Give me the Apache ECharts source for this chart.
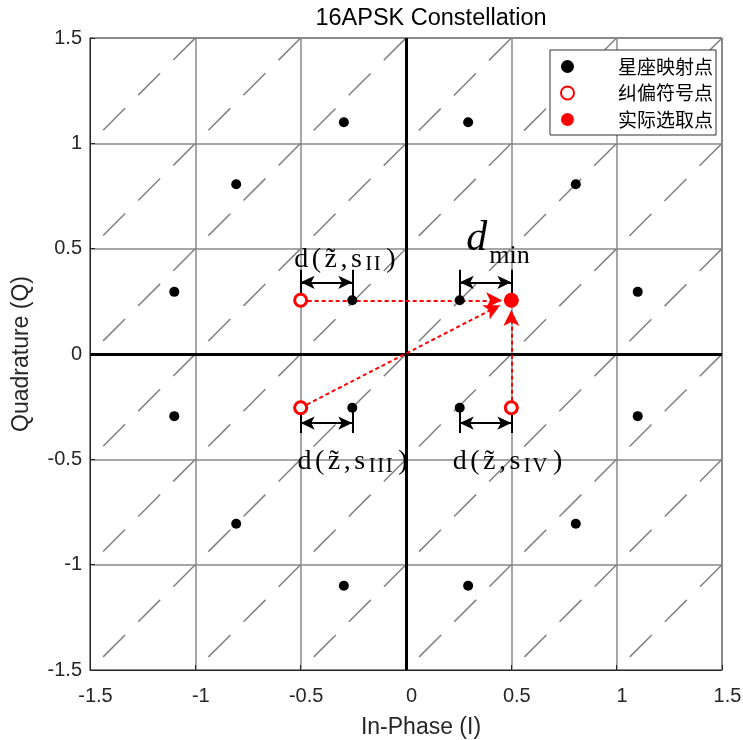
<!DOCTYPE html>
<html>
<head>
<meta charset="utf-8">
<script src="https://cdn.jsdelivr.net/npm/echarts@6/dist/echarts.min.js"></script>
<style>
  html, body { margin: 0; padding: 0; background: #fff; }
  #main { width: 743px; height: 740px; }
</style>
</head>
<body>
<div id="main"></div>
<script>
// constellation points
const constX = [0.255, -0.255, -0.255, 0.255,
  0.295, -0.295, -0.295, 0.295, 0.806, -0.806, -0.806, 0.806, 1.10, -1.10, -1.10, 1.10]
const constY = [0.255, 0.255, -0.255, -0.255,
  1.10, 1.10, -1.10, -1.10, 0.806, 0.806, -0.806, -0.806, 0.295, 0.295, -0.295, -0.295]
// corrected symbols (open red) and the chosen point (filled red)
const corrX = [-0.5, -0.5, 0.5]
const corrY = [0.255, -0.255, -0.255]
const chosen = [0.5, 0.255]
// offsets of the dashed diagonals y = x + c
const diagOffsets = [-2.5, -2, -1.5, -1, -0.5, 0, 0.5, 1, 1.5, 2, 2.5]
// red dotted arrows: from corrected symbols to chosen point (tip stops at marker edge)
const redArrows = [
  [[-0.5, 0.255], [0.456, 0.255]],
  [[-0.5, -0.255], [0.447, 0.232]],
  [[0.5, -0.255], [0.5, 0.209]]
]
// black distance brackets: [x1, x2, yArrow, yTickEnd, yPoint]
const brackets = [
  [-0.5, -0.255, 0.34, 0.40, 0.255],
  [0.255, 0.5, 0.34, 0.40, 0.255],
  [-0.5, -0.255, -0.328, -0.375, -0.255],
  [0.255, 0.5, -0.328, -0.375, -0.255]
]
// text annotations
const dz = '{a|d}{a|(}{a|z\u0303}{a|,}{a|s}'
const notes = [
  { x: -0.29, y: 0.446, text: dz + '{s|I}{s|I}{p|)}' },
  { x: 0.437, y: 0.547, text: '{d|d}{m|min}' },
  { x: -0.254, y: -0.513, text: dz + '{s|I}{s|I}{s|I}{p|)}' },
  { x: 0.482, y: -0.513, text: dz + '{s|I}{s|V}{p|)}' }
]
const legendNames = ['星座映射点', '纠偏符号点', '实际选取点']

const chart = echarts.init(document.getElementById('main'))

const diagSeries = diagOffsets.map(c => ({
  type: 'line',
  silent: true,
  symbol: 'none',
  animation: false,
  z: 1,
  data: [[Math.max(-1.5, -1.5 - c), Math.max(-1.5, -1.5 - c) + c],
         [Math.min(1.5, 1.5 - c), Math.min(1.5, 1.5 - c) + c]],
  lineStyle: { color: '#808080', width: 1.5, type: [31, 18.6], dashOffset: 31 }
}))

const bracketLines = []
brackets.forEach(b => {
  bracketLines.push([{ coord: [b[0], b[2]], symbol: 'arrow' }, { coord: [b[1], b[2]], symbol: 'arrow' }])
  bracketLines.push([{ coord: [b[0], b[4]], symbol: 'none' }, { coord: [b[0], b[3]], symbol: 'none' }])
  bracketLines.push([{ coord: [b[1], b[4]], symbol: 'none' }, { coord: [b[1], b[3]], symbol: 'none' }])
})

const axisFont = { fontFamily: 'Liberation Sans', fontSize: 20, color: '#262626' }
const nameFont = { fontFamily: 'Liberation Sans', fontSize: 23, color: '#262626' }

chart.setOption({
  animation: false,
  title: {
    text: '16APSK Constellation',
    left: 431, top: 7, padding: 0, textAlign: 'center',
    textStyle: { fontFamily: 'Liberation Sans', fontSize: 23.5, fontWeight: 'normal', color: '#000' }
  },
  legend: {
    data: legendNames,
    orient: 'vertical',
    right: 27, top: 50,
    padding: [7, 3, 6, 10],
    itemGap: 7.5,
    itemWidth: 13, itemHeight: 13,
    backgroundColor: '#fff',
    borderColor: '#333', borderWidth: 1, borderRadius: 0,
    textStyle: { fontFamily: 'Noto Sans CJK SC', fontSize: 19, color: '#000', padding: [0, 0, 0, 39] }
  },
  grid: {
    left: 90, right: 21, top: 38, bottom: 70, outerBoundsMode: 'none',
    show: true, borderColor: '#262626', borderWidth: 1, backgroundColor: '#fff'
  },
  xAxis: {
    type: 'value', min: -1.5, max: 1.5, interval: 0.5,
    name: 'In-Phase (I)', nameLocation: 'middle', nameGap: 46,
    nameTextStyle: Object.assign({ padding: [0, 0, 0, 30] }, nameFont),
    axisLine: { onZero: false, lineStyle: { color: '#262626' } },
    axisTick: { inside: true, length: 5, lineStyle: { color: '#262626' } },
    axisLabel: Object.assign({ margin: 16, padding: [0, 0, 0, 11] }, axisFont),
    splitLine: { show: true, lineStyle: { color: '#888888', width: 1.5 } }
  },
  yAxis: {
    type: 'value', min: -1.5, max: 1.5, interval: 0.5,
    name: 'Quadrature (Q)', nameLocation: 'middle', nameGap: 57,
    nameTextStyle: nameFont,
    axisLine: { onZero: false, lineStyle: { color: '#262626' } },
    axisTick: { inside: true, length: 5, lineStyle: { color: '#262626' } },
    axisLabel: Object.assign({ margin: 8 }, axisFont),
    splitLine: { show: true, lineStyle: { color: '#888888', width: 1.5 } }
  },
  series: [
    ...diagSeries,
    {
      // thick zero axes
      type: 'line', silent: true, symbol: 'none', data: [], z: 2,
      markLine: {
        silent: true, symbol: 'none', label: { show: false },
        lineStyle: { color: '#000', width: 3, type: 'solid' },
        data: [[{ coord: [0, -1.5] }, { coord: [0, 1.5] }], [{ coord: [-1.5, 0] }, { coord: [1.5, 0] }]]
      }
    },
    {
      // red dotted arrows
      type: 'line', silent: true, symbol: 'none', data: [], z: 3,
      markLine: {
        silent: true, label: { show: false },
        symbol: ['none', 'arrow'], symbolSize: [12, 16],
        lineStyle: { color: '#ff0000', width: 2, type: [4, 3], opacity: 1 },
        data: redArrows.map(a => [{ coord: a[0] }, { coord: a[1] }])
      }
    },
    {
      // black distance brackets
      type: 'line', silent: true, symbol: 'none', data: [], z: 3,
      markLine: {
        silent: true, label: { show: false },
        symbolSize: [10, 14],
        lineStyle: { color: '#000', width: 2, type: 'solid', opacity: 1 },
        data: bracketLines
      }
    },
    {
      name: legendNames[0], type: 'scatter', z: 5,
      symbol: 'circle', symbolSize: 10,
      itemStyle: { color: '#000', opacity: 1 },
      data: constX.map((x, i) => [x, constY[i]])
    },
    {
      name: legendNames[1], type: 'scatter', z: 5,
      symbol: 'circle', symbolSize: 12,
      itemStyle: { color: '#fff', borderColor: '#ff0000', borderWidth: 3, opacity: 1 },
      data: corrX.map((x, i) => [x, corrY[i]])
    },
    {
      name: legendNames[2], type: 'scatter', z: 5,
      symbol: 'circle', symbolSize: 15,
      itemStyle: { color: '#ff0000', opacity: 1 },
      data: [chosen]
    },
    {
      // annotations
      type: 'scatter', silent: true, symbolSize: 0, z: 6,
      itemStyle: { opacity: 1 },
      data: notes.map(n => ({ value: [n.x, n.y], label: { formatter: n.text } })),
      label: {
        show: true, position: 'inside', color: '#000',
        rich: {
          a: { fontFamily: 'Liberation Serif', fontSize: 28, color: '#000', padding: [0, 3.5, 0, 0] },
          p: { fontFamily: 'Liberation Serif', fontSize: 28, color: '#000', padding: [0, 0, 0, 4] },
          s: { fontFamily: 'Liberation Serif', fontSize: 21, color: '#000', padding: [9, 1.5, 0, 0] },
          d: { fontFamily: 'Liberation Serif', fontSize: 42, fontStyle: 'italic', color: '#000' },
          m: { fontFamily: 'Liberation Serif', fontSize: 26, color: '#000', padding: [35, 0, 0, 2] }
        }
      }
    }
  ]
})
</script>
</body>
</html>
